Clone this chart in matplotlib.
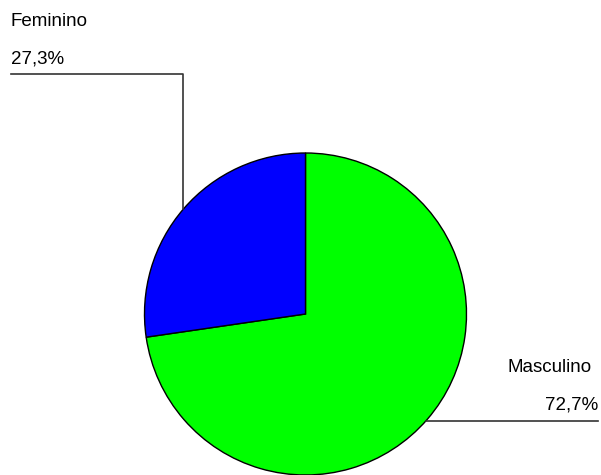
import matplotlib
matplotlib.use("Agg")
import matplotlib.pyplot as plt

# data
labels = ["Masculino", "Feminino"]
values = [72.7, 27.3]
pct_labels = ["72,7%", "27,3%"]
colors = ["#00ff00", "#0000ff"]

W, H = 601, 475
plt.rcParams['font.family'] = ['Liberation Sans', 'DejaVu Sans']

fig = plt.figure(figsize=(W / 100, H / 100), dpi=100)
ax = fig.add_axes([0, 0, 1, 1])

# pie in pixel coords (y flipped: data y = H - pixel y)
cx, cy, r = 305.5, H - 314, 161
ax.pie(values, colors=colors, startangle=90, counterclock=False,
       center=(cx, cy), radius=r,
       wedgeprops=dict(edgecolor="black", linewidth=1))

# leader lines
ax.plot([11, 183, 183], [H - 73.5, H - 73.5, H - 209], color="#333333", lw=1.2)
ax.plot([426, 598], [H - 420.5, H - 420.5], color="#333333", lw=1.2)

fs = 13.5
ax.text(11, H - 26, labels[1], fontsize=fs, ha="left", va="baseline")
ax.text(11, H - 63, pct_labels[1], fontsize=fs, ha="left", va="baseline")
ax.text(592, H - 372, labels[0], fontsize=fs, ha="right", va="baseline")
ax.text(598, H - 410, pct_labels[0], fontsize=fs, ha="right", va="baseline")

ax.set_xlim(0, W)
ax.set_ylim(0, H)
ax.set_aspect("auto")
ax.axis("off")

fig.savefig("out.png", dpi=100)
